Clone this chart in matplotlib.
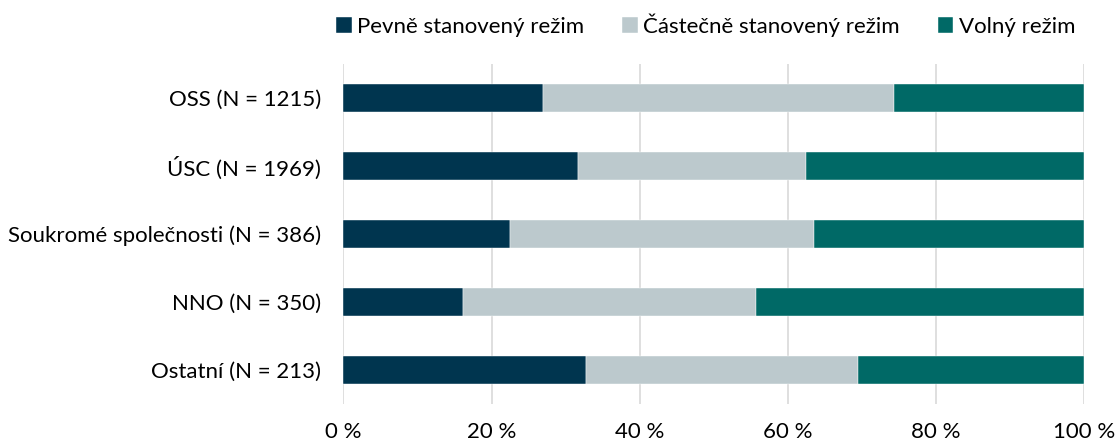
import numpy as np
import matplotlib
matplotlib.use("Agg")
from matplotlib import pyplot as plt

plt.rcParams['font.family'] = ['Lato', 'DejaVu Sans']

categories = ["OSS (N = 1215)", "ÚSC (N = 1969)", "Soukromé společnosti (N = 386)",
              "NNO (N = 350)", "Ostatní (N = 213)"]
pevny = [27.0, 31.7, 22.5, 16.2, 32.8]
castecny = [47.3, 30.8, 41.0, 39.5, 36.7]
volny = [25.7, 37.5, 36.5, 44.3, 30.5]
series_names = ["Pevně stanovený režim", "Částečně stanovený režim", "Volný režim"]
colors = ["#00354f", "#bcc9cd", "#006966"]
xticks = [0, 20, 40, 60, 80, 100]

fig = plt.figure(figsize=(11.15, 4.45), dpi=100)
ax = fig.add_axes([0.308, 0.092, 0.6645, 0.764])

y = np.arange(len(categories))
left = np.zeros(len(categories))
for vals, name, c in zip([pevny, castecny, volny], series_names, colors):
    ax.barh(y, vals, left=left, height=0.4, color=c, label=name,
            edgecolor="white", linewidth=0.3, zorder=3)
    left += np.array(vals)

ax.set_ylim(len(categories) - 0.5, -0.5)
ax.set_xlim(0, 100)
ax.set_yticks(y)
ax.set_yticklabels(categories, fontsize=16)
ax.set_xticks(xticks)
ax.set_xticklabels([f"{t} %" for t in xticks], fontsize=16)
ax.tick_params(axis="both", length=0, colors="black")
ax.tick_params(axis="x", pad=13)
ax.tick_params(axis="y", pad=16)
ax.grid(axis="x", color="#d9d9d9", linewidth=1.2, zorder=0)
for s in ax.spines.values():
    s.set_visible(False)

fig.legend(loc="upper center", bbox_to_anchor=(0.633, 1.015), ncol=3, frameon=False,
           fontsize=16, handlelength=0.7, handleheight=0.7, handletextpad=0.25,
           columnspacing=1.7)

fig.savefig("out.png", dpi=100)
